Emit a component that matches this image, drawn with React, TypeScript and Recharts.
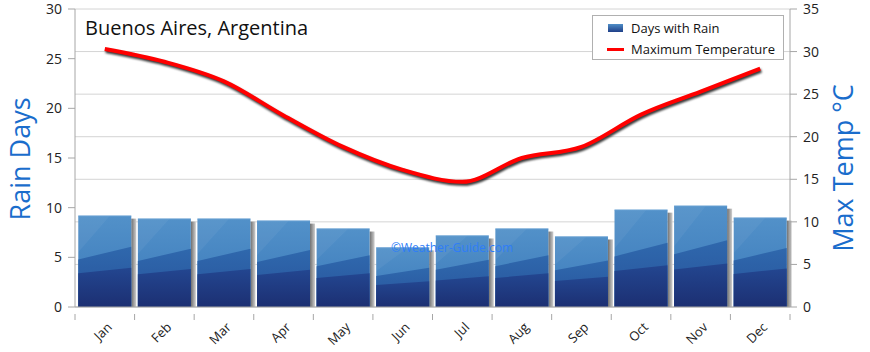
import React from "react";
import {
  ComposedChart,
  Bar,
  Line,
  XAxis,
  YAxis,
  CartesianGrid,
  Legend,
} from "recharts";

const months = ["Jan", "Feb", "Mar", "Apr", "May", "Jun", "Jul", "Aug", "Sep", "Oct", "Nov", "Dec"];
const rainDays = [9.2, 8.9, 8.9, 8.7, 7.9, 6.0, 7.2, 7.9, 7.1, 9.8, 10.2, 9.0];
const maxTemp = [30.3, 28.8, 26.5, 22.5, 18.8, 16.1, 14.7, 17.5, 18.8, 22.6, 25.3, 28.0];
const rainTicks = [0, 5, 10, 15, 20, 25, 30];
const tempTicks = [0, 5, 10, 15, 20, 25, 30, 35];

const data = months.map((m, i) => ({ month: m, rain: rainDays[i], temp: maxTemp[i] }));

const W = 870;
const H = 352;
const LEFT_W = 75;
const RIGHT_W = 80;
const BAND = (W - LEFT_W - RIGHT_W) / months.length;
const FONT = "'Open Sans', 'DejaVu Sans', sans-serif";
const AXIS = "#a6a6a6";
const TITLE_BLUE = "#1a6dcc";

// bar with the glossy layered look + grey drop shadow on the right
const RainBar = (props: any) => {
  const { x, y, width, height } = props;
  if (!height || height <= 0) return null;
  const b = y + height;
  const at = (f: number) => b - height * f;
  return (
    <g>
      <rect x={x + width} y={y + 3} width={5} height={height - 3} fill="url(#barShadow)" />
      <rect x={x} y={y} width={width} height={height} fill="url(#barTop)" />
      <polygon
        points={`${x},${y} ${x + width * 0.6},${y} ${x},${at(0.6)}`}
        fill="#ffffff"
        fillOpacity={0.05}
      />
      <polygon
        points={`${x},${at(0.52)} ${x + width},${at(0.66)} ${x + width},${b} ${x},${b}`}
        fill="url(#barMid)"
      />
      <polygon
        points={`${x},${at(0.37)} ${x + width},${at(0.43)} ${x + width},${b} ${x},${b}`}
        fill="url(#barLow)"
      />
      <line x1={x} x2={x + width} y1={y + 0.5} y2={y + 0.5} stroke="#6aa3d6" strokeOpacity={0.6} />
    </g>
  );
};

const MonthTick = (props: any) => {
  const { x, y, payload, index } = props;
  const ax = x + 8;
  const ay = y + 13;
  return (
    <g>
      <line x1={x - BAND / 2} x2={x - BAND / 2} y1={y - 1} y2={y + 5} stroke={AXIS} />
      {index === months.length - 1 && (
        <line x1={x + BAND / 2} x2={x + BAND / 2} y1={y - 1} y2={y + 5} stroke={AXIS} />
      )}
      <text
        x={ax}
        y={ay}
        textAnchor="end"
        fontSize={13}
        fontFamily={FONT}
        fill="#222"
        transform={`rotate(-45, ${ax}, ${ay})`}
      >
        {payload.value}
      </text>
    </g>
  );
};

const LegendBox = () => (
  <div
    style={{
      width: 190,
      height: 43,
      border: "1px solid #b0b0b0",
      background: "#fff",
      fontFamily: FONT,
      fontSize: 13,
      color: "#111",
      position: "relative",
      boxSizing: "content-box",
    }}
  >
    <div style={{ position: "absolute", left: 15, top: 8, width: 15, height: 8, background: "linear-gradient(#4f8ec7, #1f3f88)" }} />
    <div style={{ position: "absolute", left: 38, top: 3, lineHeight: "18px" }}>Days with Rain</div>
    <div style={{ position: "absolute", left: 14, top: 32, width: 17, height: 3, background: "#ff0000" }} />
    <div style={{ position: "absolute", left: 38, top: 24, lineHeight: "18px" }}>Maximum Temperature</div>
  </div>
);

const SideTitle = (text: string, dx: number, dy: number) => (props: any) => {
  const vb = props.viewBox || {};
  const cx = vb.x + dx;
  const cy = vb.y + vb.height / 2 + dy;
  return (
    <text
      x={cx}
      y={cy}
      textAnchor="middle"
      fontSize={27}
      fontFamily={FONT}
      fill={TITLE_BLUE}
      transform={`rotate(-90, ${cx}, ${cy})`}
    >
      {text}
    </text>
  );
};

export default function App() {
  return (
    <div style={{ position: "absolute", left: 0, top: 0, width: W, height: H, background: "#fff" }}>
      <style>{`.temp-line path { filter: drop-shadow(1px 2px 1px rgba(0,0,0,0.8)); }`}</style>
      <ComposedChart
        width={W}
        height={H}
        data={data}
        margin={{ top: 9, right: 0, left: 0, bottom: 0 }}
        barCategoryGap="5.5%"
        style={{ overflow: "visible" }}
      >
        <defs>
          <linearGradient id="barTop" x1="0" y1="0" x2="0" y2="1">
            <stop offset="0%" stopColor="#5291c9" />
            <stop offset="100%" stopColor="#3a78b9" />
          </linearGradient>
          <linearGradient id="barMid" x1="0" y1="0" x2="0" y2="1">
            <stop offset="0%" stopColor="#2f68ad" />
            <stop offset="100%" stopColor="#27529a" />
          </linearGradient>
          <linearGradient id="barLow" x1="0" y1="0" x2="0" y2="1">
            <stop offset="0%" stopColor="#234690" />
            <stop offset="100%" stopColor="#1c2f72" />
          </linearGradient>
          <linearGradient id="barShadow" x1="0" y1="0" x2="1" y2="0">
            <stop offset="0%" stopColor="#6e6e6e" />
            <stop offset="100%" stopColor="#cfcfcf" />
          </linearGradient>
        </defs>
        <CartesianGrid yAxisId="right" vertical={false} stroke="#d4d4d4" />
        <XAxis
          dataKey="month"
          height={45}
          stroke={AXIS}
          tickLine={false}
          tick={<MonthTick />}
          interval={0}
        />
        <YAxis
          yAxisId="left"
          width={LEFT_W}
          domain={[0, 30]}
          ticks={rainTicks}
          stroke={AXIS}
          tickSize={7}
          tickMargin={6}
          tick={{ fill: "#222", fontSize: 14, fontFamily: FONT }}
          label={{ content: SideTitle("Rain Days", 30, 1) }}
        />
        <YAxis
          yAxisId="right"
          orientation="right"
          width={RIGHT_W}
          domain={[0, 35]}
          ticks={tempTicks}
          stroke={AXIS}
          tickSize={7}
          tickMargin={6}
          tick={{ fill: "#222", fontSize: 14, fontFamily: FONT }}
          label={{ content: SideTitle("Max Temp °C", 63, 10) }}
        />
        <Bar
          yAxisId="left"
          dataKey="rain"
          name="Days with Rain"
          shape={<RainBar />}
          isAnimationActive={false}
        />
        <Line
          yAxisId="right"
          dataKey="temp"
          name="Maximum Temperature"
          type="monotone"
          className="temp-line"
          stroke="#ff0000"
          strokeWidth={4}
          dot={false}
          activeDot={false}
          isAnimationActive={false}
        />
        <Legend
          layout="horizontal"
          verticalAlign="middle"
          align="center"
          content={<LegendBox />}
          wrapperStyle={{ left: 592, top: 15, width: 192, height: 45 }}
        />
      </ComposedChart>
      <div
        style={{
          position: "absolute",
          left: 85,
          top: 14,
          fontFamily: FONT,
          fontSize: 20,
          color: "#111",
          pointerEvents: "none",
        }}
      >
        Buenos Aires, Argentina
      </div>
      <div
        style={{
          position: "absolute",
          left: 391,
          top: 239,
          zIndex: 5,
          fontFamily: FONT,
          fontSize: 12,
          color: "#2f7df7",
          pointerEvents: "none",
        }}
      >
        ©Weather-Guide.com
      </div>
    </div>
  );
}
